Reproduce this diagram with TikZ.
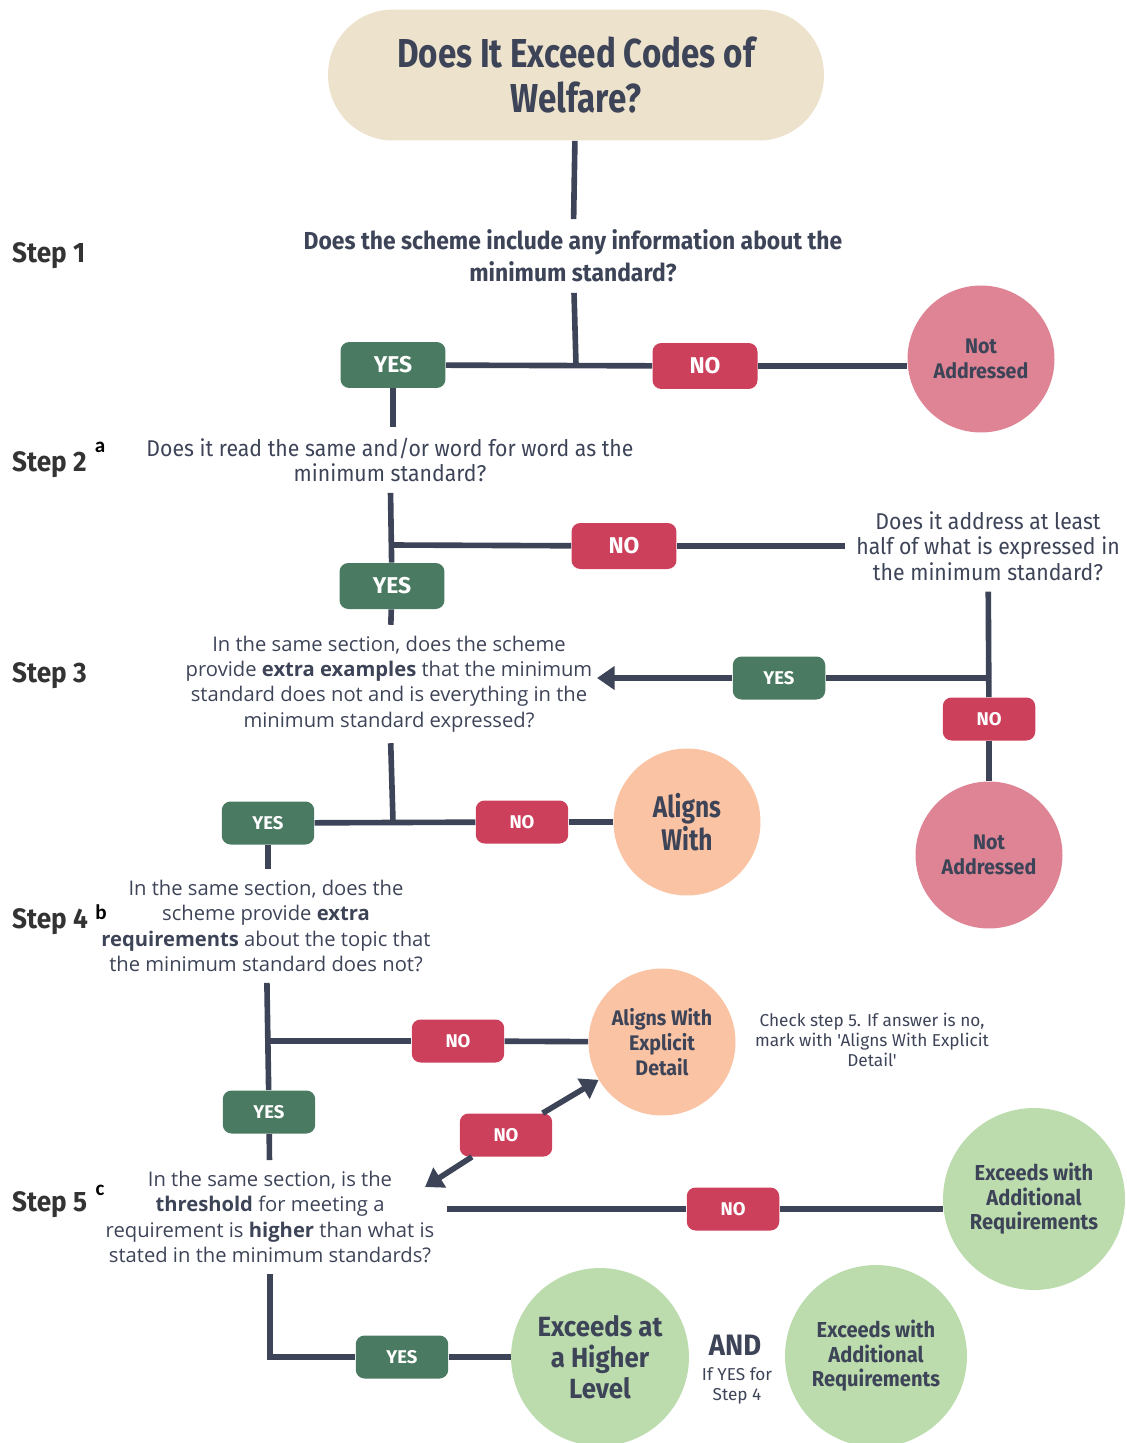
\documentclass[tikz,border=0pt]{standalone}
\usepackage{fontspec}
\setmainfont{Open Sans}
\newfontfamily\titlefont[FakeStretch=0.82]{Fira Sans}
\newfontfamily\condfont[FakeStretch=0.93]{Fira Sans}
\newfontfamily\plainfont{Fira Sans}
\newfontfamily\lblfont{Carlito}
\usetikzlibrary{arrows.meta}
\definecolor{WFInk}{RGB}{61,68,88}
\definecolor{WFStep}{RGB}{51,51,51}
\definecolor{WFSand}{RGB}{237,226,203}
\definecolor{WFGreen}{RGB}{74,122,97}
\definecolor{WFRed}{RGB}{204,64,92}
\definecolor{WFPink}{RGB}{222,132,149}
\definecolor{WFPeach}{RGB}{250,195,164}
\definecolor{WFMint}{RGB}{188,220,174}
\tikzset{
  link/.style={draw=WFInk,line width=3.2pt},
  tipped/.style={link,-{Triangle[length=10pt,width=13pt]}},
  tag/.style={rounded corners=5pt,text=white,inner sep=0pt,font=\plainfont\bfseries\fontsize{13}{15}\selectfont,minimum width=2.1cm,minimum height=.92cm},
  smalltag/.style={font=\plainfont\bfseries\fontsize{10.5}{12}\selectfont,minimum width=1.85cm,minimum height=.86cm},
  yestag/.style={tag,fill=WFGreen},
  notag/.style={tag,fill=WFRed},
  outcome/.style={circle,inner sep=0pt,minimum size=2.94cm,align=center,text=WFInk,font=\condfont\bfseries\fontsize{12}{14}\selectfont},
  question/.style={align=center,text=WFInk,inner sep=6pt},
  steplbl/.style={anchor=west,text=WFStep,font=\condfont\bfseries\fontsize{16}{18}\selectfont},
  subl/.style={text=black,font=\lblfont\bfseries\fontsize{12}{14}\selectfont},
  remark/.style={align=center,text=WFInk,font=\plainfont\fontsize{9.8}{11.3}\selectfont},
}
\begin{document}
\begin{tikzpicture}[x=0.02cm,y=-0.02cm]
  \useasboundingbox (0,0) rectangle (1126,1443);
  % start
  \node[fill=WFSand,rounded corners=1.3cm,minimum width=9.92cm,minimum height=2.62cm,align=center,text=WFInk,font=\titlefont\bfseries\fontsize{23}{25.5}\selectfont] (title) at (576,75) {Does It Exceed Codes of\\Welfare?};
  % step labels
  \node[steplbl] (st1) at (6,256) {Step 1};
  \node[steplbl] (st2) at (6,465) {Step 2};
  \node[steplbl] (st3) at (6,676) {Step 3};
  \node[steplbl] (st4) at (6,922) {Step 4};
  \node[steplbl] (st5) at (6,1205) {Step 5};
  \node[subl] (sa) at (100,447) {a};
  \node[subl] (sb) at (101,912) {b};
  \node[subl] (sc) at (100,1190) {c};
  % step 1
  \node[question,font=\condfont\bfseries\fontsize{14}{18}\selectfont] (q1) at (573,256) {Does the scheme include any information about the\\minimum standard?};
  \coordinate (j1) at (576,365);
  \node[yestag] (yes1) at (393,365) {YES};
  \node[notag] (no1) at (705,366) {NO};
  \node[outcome,fill=WFPink] (na1) at (981,359) {Not\\Addressed};
  % step 2
  \node[question,font=\condfont\fontsize{13}{14.3}\selectfont] (q2) at (390,460) {Does it read the same and/or word for word as the\\minimum standard?};
  \coordinate (j2) at (391,545);
  \node[notag] (no2) at (624,546) {NO};
  \node[question,font=\condfont\fontsize{13}{14.6}\selectfont] (q2r) at (988,546) {Does it address at least\\half of what is expressed in\\the minimum standard?};
  \node[yestag] (yes2) at (392,586) {YES};
  % step 3
  \node[question,font=\fontsize{11.5}{14.5}\selectfont] (q3) at (389,684) {In the same section, does the scheme\\provide \textbf{extra examples} that the minimum\\standard does not and is everything in the\\minimum standard expressed?};
  \coordinate (j3) at (989,678);
  \coordinate (a3) at (597,678);
  \node[yestag,smalltag] (yes3) at (779,678) {YES};
  \node[notag,smalltag] (no3) at (989,719) {NO};
  \node[outcome,fill=WFPink] (na2) at (989,855) {Not\\Addressed};
  \coordinate (j4) at (393,822);
  \node[yestag,smalltag] (yes4) at (268,823) {YES};
  \node[notag,smalltag] (no4) at (522,822) {NO};
  \node[outcome,fill=WFPeach,font=\titlefont\bfseries\fontsize{17}{19}\selectfont] (aw) at (687,822) {Aligns\\With};
  % step 4
  \node[question,font=\fontsize{11.5}{14.5}\selectfont] (q4) at (266,926) {In the same section, does the\\scheme provide \textbf{extra}\\\textbf{requirements} about the topic that\\the minimum standard does not?};
  \coordinate (j5) at (268,1041);
  \node[notag,smalltag] (no5) at (458,1041) {NO};
  \node[outcome,fill=WFPeach,font=\condfont\bfseries\fontsize{12}{14.3}\selectfont] (awe) at (662,1042) {Aligns With\\Explicit\\Detail};
  \node[remark] (note) at (872,1040) {Check step 5. If answer is no,\\mark with 'Aligns With Explicit\\Detail'};
  \node[yestag,smalltag] (yes5) at (269,1112) {YES};
  % step 5
  \node[question,font=\fontsize{11.5}{14.5}\selectfont] (q5) at (270,1217) {In the same section, is the\\\textbf{threshold} for meeting a\\requirement is \textbf{higher} than what is\\stated in the minimum standards?};
  \coordinate (a5) at (425,1187);
  \node[notag,smalltag] (no6) at (506,1135) {NO};
  \coordinate (s5) at (447,1209);
  \node[notag,smalltag] (no7) at (733,1209) {NO};
  \node[outcome,fill=WFMint,minimum size=3.64cm,font=\condfont\bfseries\fontsize{12.3}{14}\selectfont] (ea1) at (1034,1199) {Exceeds with\\Additional\\Requirements};
  \node[yestag,smalltag] (yes6) at (402,1357) {YES};
  \node[outcome,fill=WFMint,minimum size=3.56cm,font=\condfont\bfseries\fontsize{15.8}{17.5}\selectfont] (eh) at (600,1357) {Exceeds at\\a Higher\\Level};
  \node[text=WFInk,font=\condfont\bfseries\fontsize{16.8}{18}\selectfont] (and) at (735,1345) {AND};
  \node[remark] (ifyes) at (737,1386) {If YES for\\Step 4};
  \node[outcome,fill=WFMint,minimum size=3.64cm,font=\condfont\bfseries\fontsize{12.3}{14}\selectfont] (ea2) at (876,1356) {Exceeds with\\Additional\\Requirements};
  % connectors
  \draw[link] (title) -- (q1);
  \draw[link] (q1) -- (j1);
  \draw[link] (yes1) -- (no1);
  \draw[link] (no1) -- (na1.west |- no1);
  \draw[link] (yes1) -- (yes1 |- q2.north);
  \draw[link] (q2) -- (yes2);
  \draw[link] (j2) -- (no2);
  \draw[link] (no2) -- (q2r);
  \draw[link] (q2r) -- (no3);
  \draw[link] (no3) -- (na2);
  \draw[link] (j3) -- (yes3);
  \draw[tipped] (yes3) -- (a3);
  \draw[link] (yes2) -- (q3);
  \draw[link] (q3) -- (j4);
  \draw[link] (yes4) -- (no4);
  \draw[link] (no4) -- (aw);
  \draw[link] (yes4) -- (yes4 |- q4.north);
  \draw[link] (q4) -- (yes5);
  \draw[link] (j5) -- (no5);
  \draw[link] (no5) -- (awe);
  \draw[link] (yes5) -- (q5);
  \draw[tipped] (no6) -- (a5);
  \draw[tipped] (no6) -- (awe);
  \draw[link] (s5) -- (no7);
  \draw[link] (no7) -- (ea1.west |- no7);
  \draw[link] (q5) |- (yes6);
  \draw[link] (yes6) -- (eh);
\end{tikzpicture}
\end{document}
